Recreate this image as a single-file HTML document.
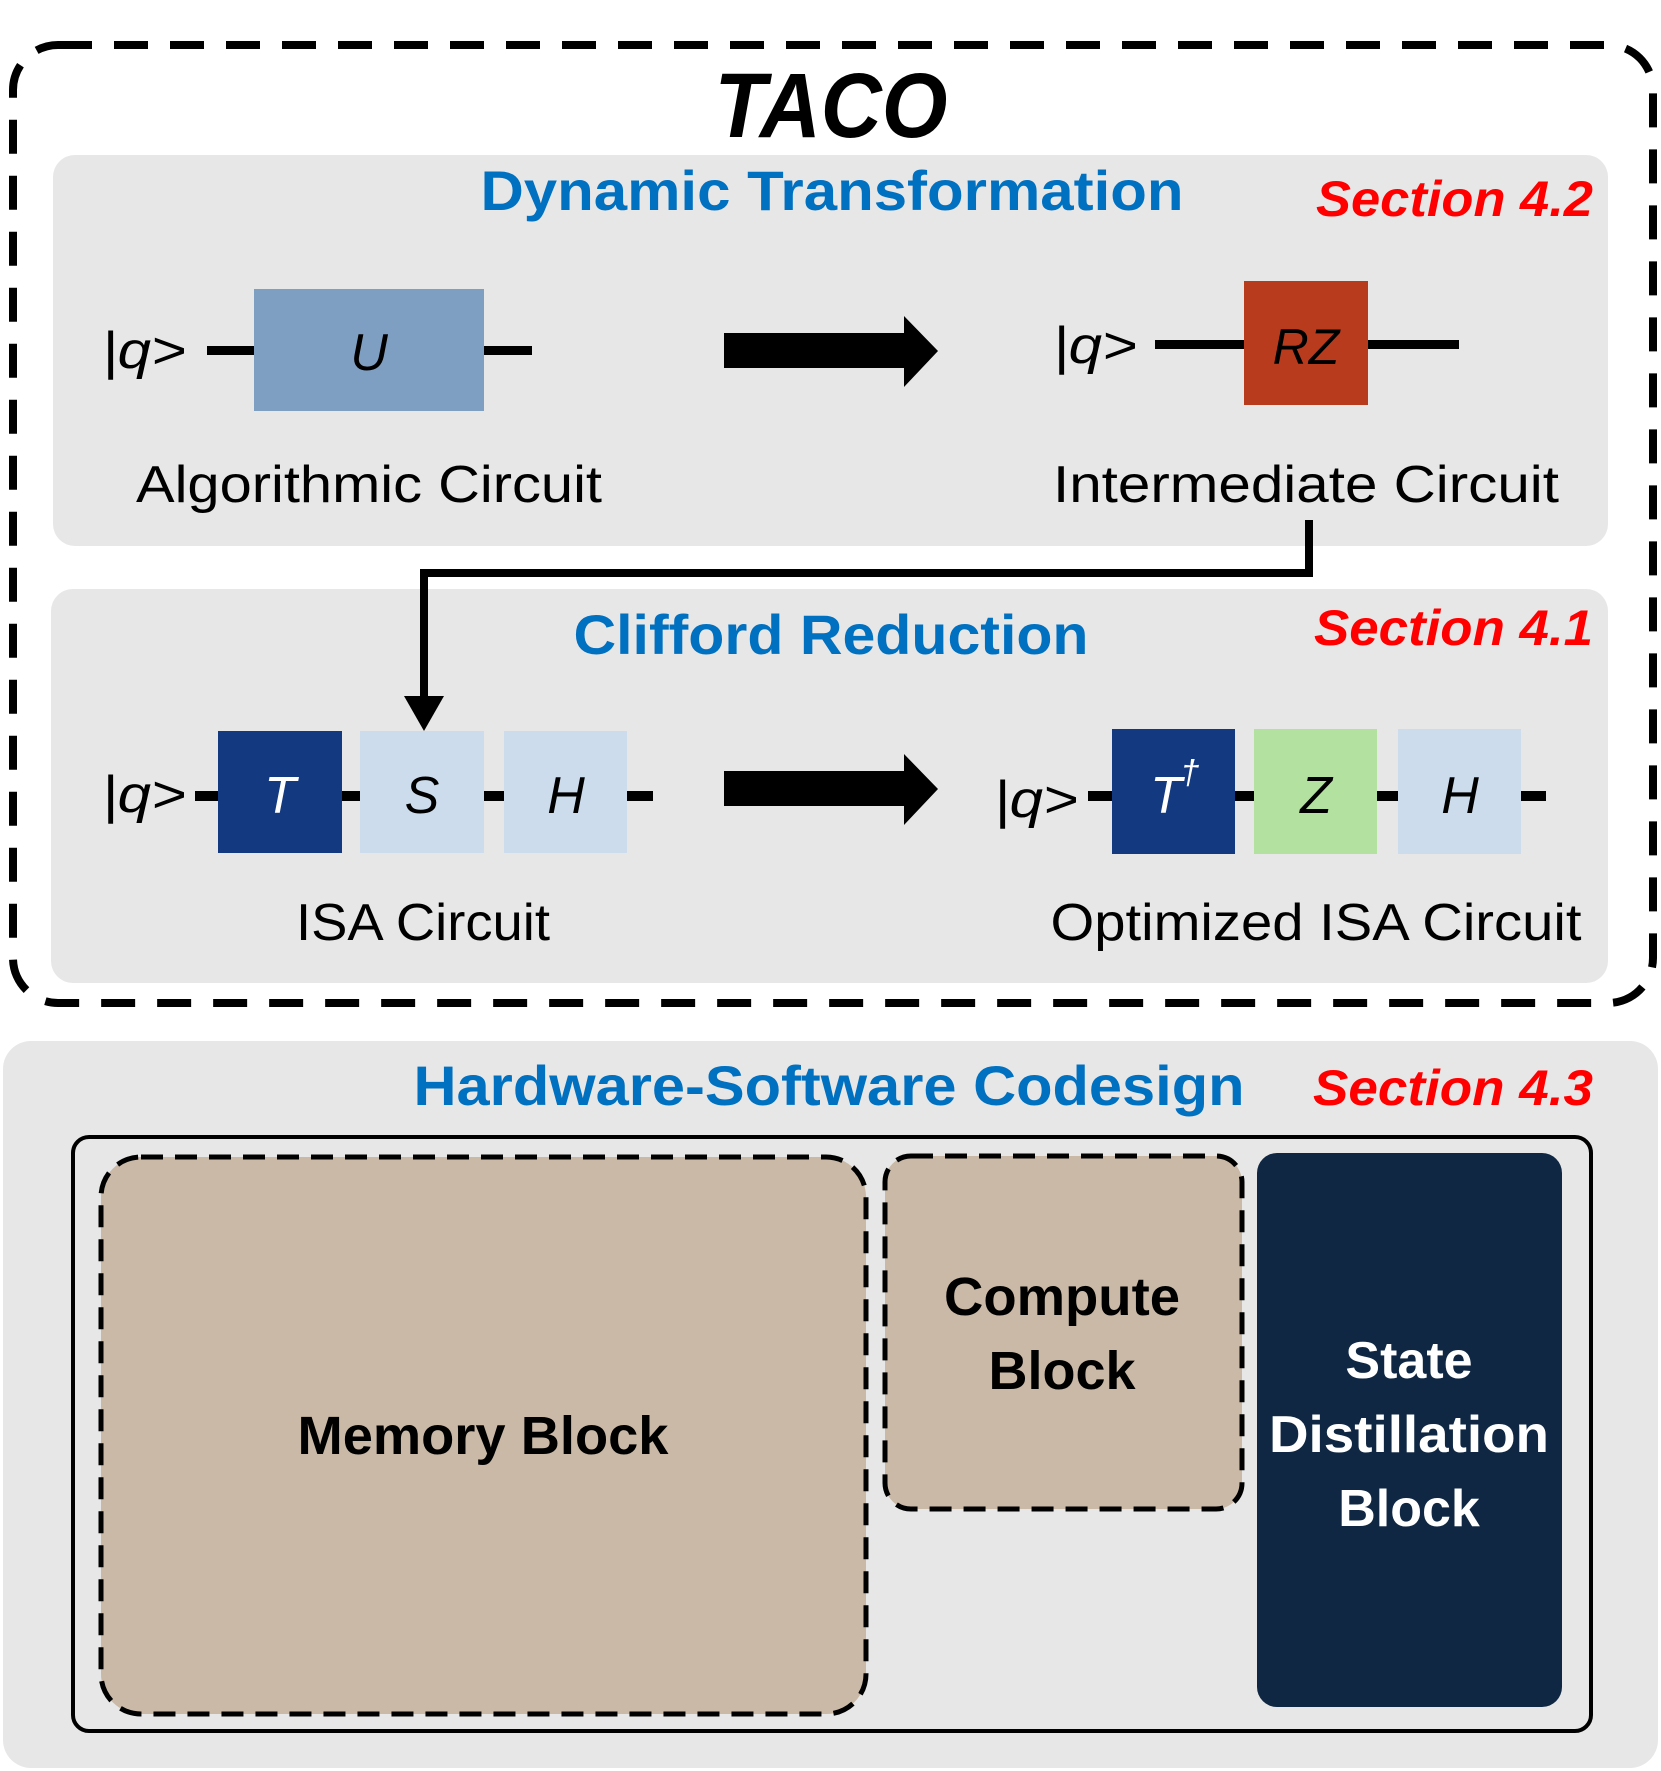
<!DOCTYPE html>
<html><head><meta charset="utf-8"><style>
html,body{margin:0;padding:0;background:#fff}
svg{display:block}
text{font-family:"Liberation Sans",sans-serif}
</style></head><body>
<svg width="1661" height="1771" viewBox="0 0 1661 1771" xmlns="http://www.w3.org/2000/svg">
<rect x="0" y="0" width="1661" height="1771" fill="#fff"/>
<rect x="13" y="45" width="1640" height="958" rx="45" fill="none" stroke="#000" stroke-width="8" stroke-dasharray="34,22"/>
<text x="831" y="137" text-anchor="middle" font-size="92" font-weight="bold" font-style="italic" textLength="233" lengthAdjust="spacingAndGlyphs">TACO</text>
<rect x="53" y="155" width="1555" height="391" rx="22" fill="#e7e7e7"/>
<text x="832" y="210" text-anchor="middle" font-size="56" font-weight="bold" fill="#0070c0" textLength="703" lengthAdjust="spacingAndGlyphs">Dynamic Transformation</text>
<text x="1593" y="216" text-anchor="end" font-size="50" font-weight="bold" font-style="italic" fill="#ff0000" textLength="277" lengthAdjust="spacingAndGlyphs">Section 4.2</text>
<text x="102" y="368" font-size="52" font-style="italic" textLength="84" lengthAdjust="spacingAndGlyphs">|q&gt;</text>
<rect x="207" y="346" width="325" height="9" fill="#000"/>
<rect x="254" y="289" width="230" height="122" fill="#7f9fc2"/>
<text x="369" y="370" text-anchor="middle" font-size="52" font-style="italic">U</text>
<polygon points="724,333 904,333 904,316 938,351 904,387 904,368 724,368" fill="#000"/>
<text x="1053" y="363" font-size="52" font-style="italic" textLength="84" lengthAdjust="spacingAndGlyphs">|q&gt;</text>
<rect x="1155" y="340" width="304" height="9" fill="#000"/>
<rect x="1244" y="281" width="124" height="124" fill="#b83b1e"/>
<text x="1306" y="364" text-anchor="middle" font-size="50" font-style="italic">RZ</text>
<text x="369" y="502" text-anchor="middle" font-size="52" textLength="466" lengthAdjust="spacingAndGlyphs">Algorithmic Circuit</text>
<text x="1306" y="502" text-anchor="middle" font-size="52" textLength="506" lengthAdjust="spacingAndGlyphs">Intermediate Circuit</text>
<rect x="51" y="589" width="1557" height="394" rx="22" fill="#e7e7e7"/>
<text x="831" y="654" text-anchor="middle" font-size="56" font-weight="bold" fill="#0070c0" textLength="515" lengthAdjust="spacingAndGlyphs">Clifford Reduction</text>
<text x="1593" y="645" text-anchor="end" font-size="50" font-weight="bold" font-style="italic" fill="#ff0000" textLength="279" lengthAdjust="spacingAndGlyphs">Section 4.1</text>
<polyline points="1309,520 1309,573 424,573 424,700" fill="none" stroke="#000" stroke-width="8"/>
<polygon points="404,696 444,696 424,731" fill="#000"/>
<text x="102" y="812" font-size="52" font-style="italic" textLength="84" lengthAdjust="spacingAndGlyphs">|q&gt;</text>
<rect x="195" y="791" width="458" height="10" fill="#000"/>
<rect x="218" y="731" width="124" height="122" fill="#133a80"/>
<rect x="360" y="731" width="124" height="122" fill="#ccdcec"/>
<rect x="504" y="731" width="123" height="122" fill="#ccdcec"/>
<text x="280" y="813" text-anchor="middle" font-size="52" font-style="italic" fill="#fff">T</text>
<text x="422" y="813" text-anchor="middle" font-size="52" font-style="italic">S</text>
<text x="566" y="813" text-anchor="middle" font-size="52" font-style="italic">H</text>
<polygon points="724,771 904,771 904,754 938,789 904,825 904,806 724,806" fill="#000"/>
<text x="994" y="817" font-size="52" font-style="italic" textLength="84" lengthAdjust="spacingAndGlyphs">|q&gt;</text>
<rect x="1088" y="791" width="458" height="10" fill="#000"/>
<rect x="1112" y="729" width="123" height="125" fill="#133a80"/>
<rect x="1254" y="729" width="123" height="125" fill="#b3e1a0"/>
<rect x="1398" y="729" width="123" height="125" fill="#ccdcec"/>
<text x="1166" y="813" text-anchor="middle" font-size="52" font-style="italic" fill="#fff">T</text>
<text x="1190" y="784" text-anchor="middle" font-size="34" font-style="italic" fill="#fff">†</text>
<text x="1316" y="813" text-anchor="middle" font-size="52" font-style="italic">Z</text>
<text x="1460" y="813" text-anchor="middle" font-size="52" font-style="italic">H</text>
<text x="423" y="940" text-anchor="middle" font-size="52" textLength="254" lengthAdjust="spacingAndGlyphs">ISA Circuit</text>
<text x="1316" y="940" text-anchor="middle" font-size="52" textLength="531" lengthAdjust="spacingAndGlyphs">Optimized ISA Circuit</text>
<rect x="3" y="1041" width="1655" height="727" rx="28" fill="#e7e7e7"/>
<text x="829" y="1105" text-anchor="middle" font-size="56" font-weight="bold" fill="#0070c0" textLength="831" lengthAdjust="spacingAndGlyphs">Hardware-Software Codesign</text>
<text x="1593" y="1105" text-anchor="end" font-size="50" font-weight="bold" font-style="italic" fill="#ff0000" textLength="280" lengthAdjust="spacingAndGlyphs">Section 4.3</text>
<rect x="73" y="1137" width="1518" height="594" rx="16" fill="none" stroke="#000" stroke-width="4"/>
<rect x="101" y="1157" width="765" height="557" rx="40" fill="#c9b9a6" stroke="#000" stroke-width="5" stroke-dasharray="22,12"/>
<rect x="885" y="1156" width="357" height="353" rx="26" fill="#c9b9a6" stroke="#000" stroke-width="5" stroke-dasharray="22,12"/>
<rect x="1257" y="1153" width="305" height="554" rx="20" fill="#0f2742"/>
<text x="483" y="1454" text-anchor="middle" font-size="54" font-weight="bold" textLength="371" lengthAdjust="spacingAndGlyphs">Memory Block</text>
<text x="1062" y="1315" text-anchor="middle" font-size="54" font-weight="bold" textLength="236" lengthAdjust="spacingAndGlyphs">Compute</text>
<text x="1062" y="1389" text-anchor="middle" font-size="54" font-weight="bold">Block</text>
<text x="1409" y="1378" text-anchor="middle" font-size="52" font-weight="bold" fill="#fff">State</text>
<text x="1409" y="1452" text-anchor="middle" font-size="52" font-weight="bold" fill="#fff" textLength="280" lengthAdjust="spacingAndGlyphs">Distillation</text>
<text x="1409" y="1526" text-anchor="middle" font-size="52" font-weight="bold" fill="#fff">Block</text>
</svg>
</body></html>
